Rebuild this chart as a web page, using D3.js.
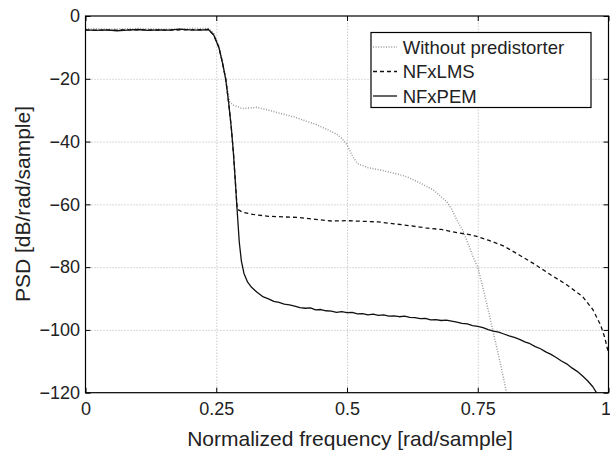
<!DOCTYPE html>
<html>
<head>
<meta charset="utf-8">
<script src="https://cdn.jsdelivr.net/npm/d3@7"></script>
<style>
  body { margin: 0; background: #fff; }
  svg { font-family: "Liberation Sans", Arial, Helvetica, sans-serif; }
  .grid line { stroke: #b4b4b4; stroke-width: 1; stroke-dasharray: 1,2; }
  .grid path { display: none; }
  .axis path { display: none; }
  .axis line { stroke: #000; stroke-width: 1; }
  .axis text { font-size: 18px; fill: #222; }
</style>
</head>
<body>
<div id="chart-area"></div>
<script>
// tick labels
var xTicks = [0, 0.25, 0.5, 0.75, 1]
var yTicks = [0, -20, -40, -60, -80, -100, -120]

// NFxPEM (solid)
var pemFreq = [0, 0.02, 0.04, 0.06, 0.08, 0.10, 0.12, 0.14, 0.16, 0.18, 0.20, 0.22, 0.235, 0.245, 0.255, 0.262, 0.268, 0.274, 0.279, 0.283, 0.287, 0.29, 0.294, 0.298, 0.303, 0.31, 0.318, 0.328, 0.34, 0.35, 0.36, 0.37, 0.38, 0.39,
    0.40, 0.41, 0.42, 0.43, 0.44, 0.45, 0.46, 0.47, 0.48, 0.49, 0.50, 0.51, 0.52, 0.53, 0.54, 0.55, 0.56, 0.57, 0.58, 0.59,
    0.60, 0.61, 0.62, 0.63, 0.64, 0.65, 0.66, 0.67, 0.68, 0.69, 0.70, 0.71, 0.72, 0.73, 0.74, 0.75, 0.76, 0.77, 0.78, 0.79,
    0.80, 0.81, 0.82, 0.83, 0.84, 0.85, 0.86, 0.87, 0.88, 0.89, 0.90, 0.91, 0.92, 0.93, 0.94, 0.95, 0.96, 0.97, 0.977]
var pemDb = [-4.4, -4.6, -4.4, -4.7, -4.5, -4.3, -4.6, -4.4, -4.5, -4.2, -4.4, -4.5, -4.3, -6, -10, -15, -20, -28, -36, -44, -54, -62, -72, -78, -82, -84.8, -86.5, -88, -89.5, -90.1, -90.9, -91.2, -91.8, -92.0,
    -92.4, -92.9, -93.1, -93.0, -93.6, -93.5, -93.9, -94.0, -94.4, -94.2, -94.5, -94.4, -94.9, -94.8, -95.2, -95.0, -95.4, -95.2, -95.6, -95.5,
    -95.8, -95.6, -96.0, -96.1, -96.4, -96.3, -96.8, -96.7, -97.0, -96.9, -97.2, -97.5, -97.9, -98.1, -98.6, -98.9, -99.3, -99.9, -100.4, -100.7,
    -101.3, -101.9, -102.4, -103.0, -103.8, -104.4, -105.3, -106.0, -107.0, -107.8, -108.8, -109.9, -110.8, -112.1, -113.2, -114.6, -116.2, -118.1, -120]

// NFxLMS (dashed)
var lmsFreq = [0, 0.05, 0.10, 0.15, 0.20, 0.235, 0.245, 0.255, 0.262, 0.268, 0.274, 0.279, 0.283, 0.287, 0.29, 0.30, 0.32, 0.35, 0.38, 0.41, 0.44, 0.47, 0.50, 0.53, 0.56, 0.59, 0.62, 0.65, 0.68, 0.71, 0.74, 0.77, 0.80, 0.83, 0.86, 0.89, 0.92, 0.95, 0.97, 0.985, 0.993, 1.0]
var lmsDb = [-4.5, -4.5, -4.4, -4.5, -4.4, -4.3, -6, -10, -15, -20, -28, -36, -44, -54, -61.5, -62.5, -63.2, -63.8, -64, -64.2, -64.8, -65.3, -65.2, -65.4, -65.6, -66.2, -66.8, -67.5, -68, -69, -69.8, -71.4, -73.3, -76.2, -79.2, -82.5, -85.6, -89.3, -93.5, -98.5, -102.5, -107.5]

// Without predistorter (dotted)
var rawFreq = [0, 0.05, 0.10, 0.15, 0.20, 0.235, 0.245, 0.255, 0.262, 0.268, 0.272, 0.276, 0.283, 0.30, 0.327, 0.35, 0.372, 0.40, 0.42, 0.44, 0.46, 0.48, 0.49, 0.50, 0.51, 0.52, 0.54, 0.57, 0.60, 0.614, 0.64, 0.665, 0.68, 0.691, 0.70, 0.71, 0.722, 0.735, 0.741, 0.75, 0.761, 0.773, 0.786, 0.795, 0.805]
var rawDb = [-4.0, -4.2, -4.0, -4.2, -4.0, -4.0, -5.5, -9.5, -14.5, -20, -24, -27.5, -28.4, -29.5, -29.1, -30, -31, -32.2, -33.4, -34.5, -36, -37.6, -39, -41, -44.5, -47, -48.3, -49.3, -50.5, -51.2, -53.2, -55.4, -57.6, -59.2, -61.5, -65, -68.5, -74, -76.7, -80, -87.3, -95.8, -105.4, -112, -120]

var seriesNames = ['Without predistorter', 'NFxLMS', 'NFxPEM']

var W = 610, H = 452
var margin = { top: 16, left: 85.5, bottom: 59.3, right: 1.5 }
var width = W - margin.left - margin.right
var height = H - margin.top - margin.bottom

var svg = d3.select('#chart-area').append('svg')
    .attr('width', W)
    .attr('height', H)
var g = svg.append('g').attr('transform', `translate(${margin.left}, ${margin.top})`)

var x = d3.scaleLinear().domain([0, 1]).range([0, width])
var y = d3.scaleLinear().domain([-120, 0]).range([height, 0])

// grid
g.append('g').attr('class', 'grid')
    .attr('transform', `translate(0, ${height})`)
    .call(d3.axisBottom(x).tickValues(xTicks.slice(1, -1)).tickSize(-height).tickFormat(''))
g.append('g').attr('class', 'grid')
    .call(d3.axisLeft(y).tickValues(yTicks.slice(1, -1)).tickSize(-width).tickFormat(''))

var line = d3.line().x(d => x(d[0])).y(d => y(d[1]))
var zip = (a, b) => a.map((v, i) => [v, b[i]])

var styles = [
    { data: zip(rawFreq, rawDb), stroke: '#9a9a9a', w: 1.5, dash: '1,1.6' },
    { data: zip(lmsFreq, lmsDb), stroke: '#111', w: 1.3, dash: '4,3' },
    { data: zip(pemFreq, pemDb), stroke: '#111', w: 1.3, dash: null }
]

g.append('defs').append('clipPath').attr('id', 'clip')
    .append('rect').attr('width', width).attr('height', height)

styles.forEach(s => {
    g.append('path')
        .datum(s.data)
        .attr('clip-path', 'url(#clip)')
        .attr('fill', 'none')
        .attr('stroke', s.stroke)
        .attr('stroke-width', s.w)
        .attr('stroke-dasharray', s.dash)
        .attr('stroke-linejoin', 'round')
        .attr('d', line)
})

// axes with inward ticks
var xAxisGroup = g.append('g').attr('class', 'axis')
    .attr('transform', `translate(0, ${height})`)
    .call(d3.axisBottom(x).tickValues(xTicks).tickSize(-5).tickPadding(9.5).tickFormat(d => String(d)))
// last label sits on the window edge, nudge it in a bit
xAxisGroup.selectAll('.tick text').filter(d => d === 1).attr('dx', -3)

g.append('g').attr('class', 'axis')
    .call(d3.axisTop(x).tickValues(xTicks).tickSize(-5).tickFormat(''))
g.append('g').attr('class', 'axis')
    .call(d3.axisLeft(y).tickValues(yTicks).tickSize(-5).tickPadding(5.5))
g.append('g').attr('class', 'axis')
    .attr('transform', `translate(${width}, 0)`)
    .call(d3.axisRight(y).tickValues(yTicks).tickSize(-5).tickFormat(''))

g.append('rect')
    .attr('width', width).attr('height', height)
    .attr('fill', 'none').attr('stroke', '#000').attr('stroke-width', 1.2)

// labels
svg.append('text')
    .attr('x', 350).attr('y', 446)
    .attr('text-anchor', 'middle')
    .attr('font-size', '21px').attr('fill', '#222')
    .text('Normalized frequency [rad/sample]')
svg.append('text')
    .attr('transform', 'rotate(-90)')
    .attr('x', -204).attr('y', 30)
    .attr('text-anchor', 'middle')
    .attr('font-size', '21px').attr('fill', '#222')
    .text('PSD [dB/rad/sample]')

// legend
var legend = svg.append('g').attr('transform', 'translate(371, 32.5)')
legend.append('rect')
    .attr('width', 220).attr('height', 75)
    .attr('fill', '#fff').attr('stroke', '#000').attr('stroke-width', 1.2)
var rowY = [14.5, 39, 63.5]
seriesNames.forEach((name, i) => {
    legend.append('line')
        .attr('x1', 2).attr('x2', 26)
        .attr('y1', rowY[i]).attr('y2', rowY[i])
        .attr('stroke', styles[i].stroke)
        .attr('stroke-width', styles[i].w)
        .attr('stroke-dasharray', styles[i].dash)
    legend.append('text')
        .attr('x', 31.7).attr('y', rowY[i] + 6.5)
        .attr('font-size', '18.5px').attr('fill', '#222')
        .text(name)
})
</script>
</body>
</html>
